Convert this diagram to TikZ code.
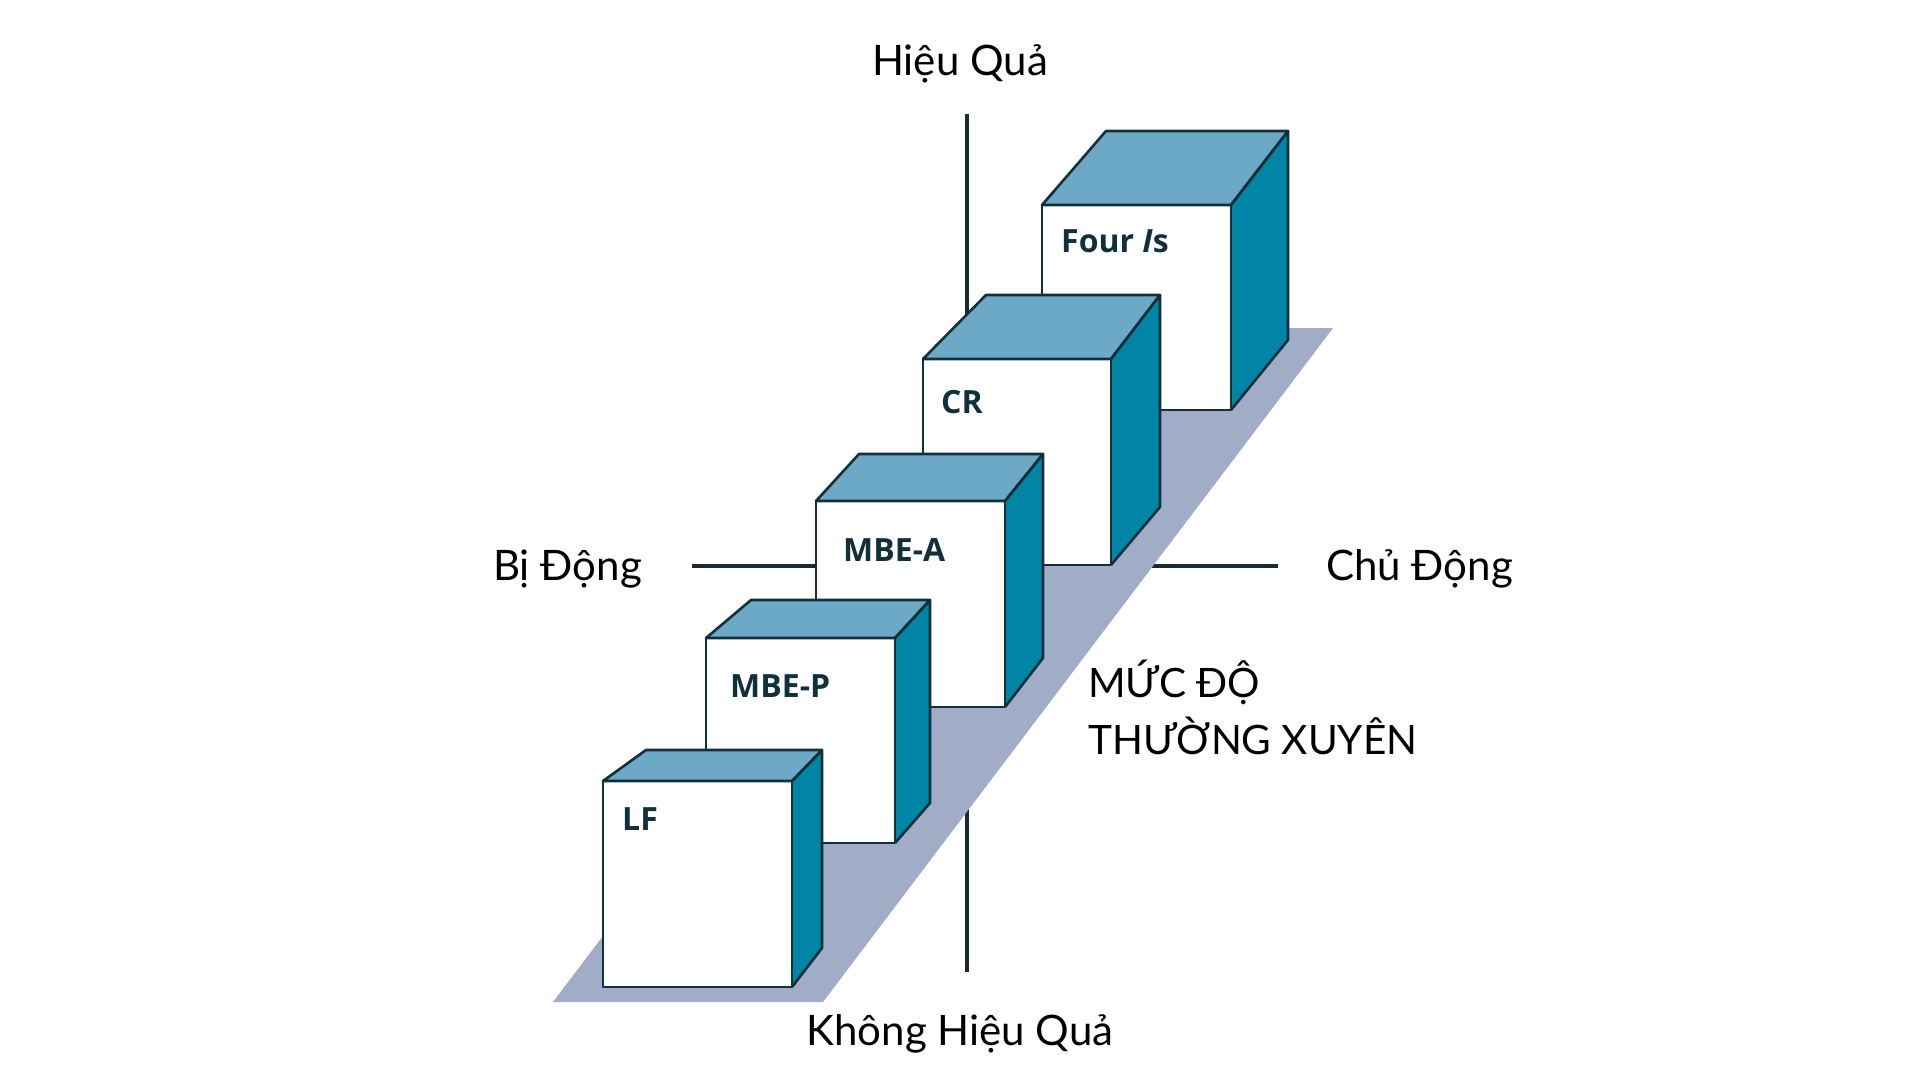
\documentclass[tikz,border=0pt]{standalone}
\usepackage{fontspec}
\setmainfont{Lato}
\newfontfamily\cubefont{Open Sans}
\definecolor{topc}{HTML}{6BA9C6}
\definecolor{sidec}{HTML}{0085A7}
\definecolor{shadowc}{HTML}{A1ADC6}
\definecolor{edgec}{HTML}{12303C}
\definecolor{axisc}{HTML}{1B2A35}
\newcommand{\drawcube}[8]{%
  \fill[topc] (#1,#2) -- (#5,#7) -- (#6,#7) -- (#3,#2) -- cycle;
  \fill[sidec] (#3,#2) -- (#6,#7) -- (#6,#8) -- (#3,#4) -- cycle;
  \fill[white] (#1,#2) rectangle (#3,#4);
  \draw[cubeedge] (#1,#2) -- (#5,#7) -- (#6,#7) -- (#3,#2) -- cycle;
  \draw[cubeedge] (#3,#2) -- (#6,#7) -- (#6,#8) -- (#3,#4);
  \draw[cubeedge] (#1,#2) rectangle (#3,#4);
}
\begin{document}
\begin{tikzpicture}[x=1pt,y=-1pt,
  cubeedge/.style={draw=edgec,line width=2.6pt,line join=round},
  axisline/.style={draw=axisc,line width=3.6pt},
  axislabel/.style={font=\fontsize{42}{50}\selectfont,text=black,inner sep=0pt},
  capslabel/.style={font=\fontsize{40.5}{48}\selectfont,text=black,inner sep=0pt},
  cubelabel/.style={font=\cubefont\bfseries\fontsize{32}{38}\selectfont,text=edgec,inner sep=0pt,anchor=base west}]
\useasboundingbox (0,0) rectangle (1920,1080);
\fill[white] (0,0) rectangle (1920,1080);
% axes
\coordinate (vtop) at (967,114);
\coordinate (vbot) at (967,972);
\coordinate (hleft) at (692,566);
\coordinate (hright) at (1278,566);
\draw[axisline] (vtop) -- (vbot);
\draw[axisline] (hleft) -- (hright);
% shadow band
\fill[shadowc] (553,1002) -- (823,1002) -- (1333,328) -- (1063,328) -- cycle;
% cubes, back to front
\drawcube{1042}{205}{1231}{410}{1106}{1288}{131}{340}
\drawcube{923}{359}{1111}{565}{986}{1160}{295}{507}
\drawcube{816}{501}{1005}{707}{859}{1043}{454}{658}
\drawcube{706}{638}{895}{843}{751}{930}{600}{803}
\drawcube{603}{781}{792}{987}{646}{822}{750}{948}
% cube labels
\node[cubelabel] (fouris) at (1061,252) {Four \textit{I}s};
\node[cubelabel] (cr) at (941,413) {CR};
\node[cubelabel] (mbea) at (843,561) {MBE-A};
\node[cubelabel] (mbep) at (730,697) {MBE-P};
\node[cubelabel] (lf) at (622,830) {LF};
% axis labels
\node[axislabel,anchor=base] (hieuqua) at (960,75) {Hiệu Quả};
\node[axislabel,anchor=base] (khong) at (960,1045) {Không Hiệu Quả};
\node[axislabel,anchor=base west] (bidong) at (493,580) {Bị Động};
\node[axislabel,anchor=base west] (chudong) at (1326,580) {Chủ Động};
\node[capslabel,anchor=base west] (mucdo) at (1088,697) {MỨC ĐỘ};
\node[capslabel,anchor=base west] (thuong) at (1088,754) {THƯỜNG XUYÊN};
\end{tikzpicture}
\end{document}
